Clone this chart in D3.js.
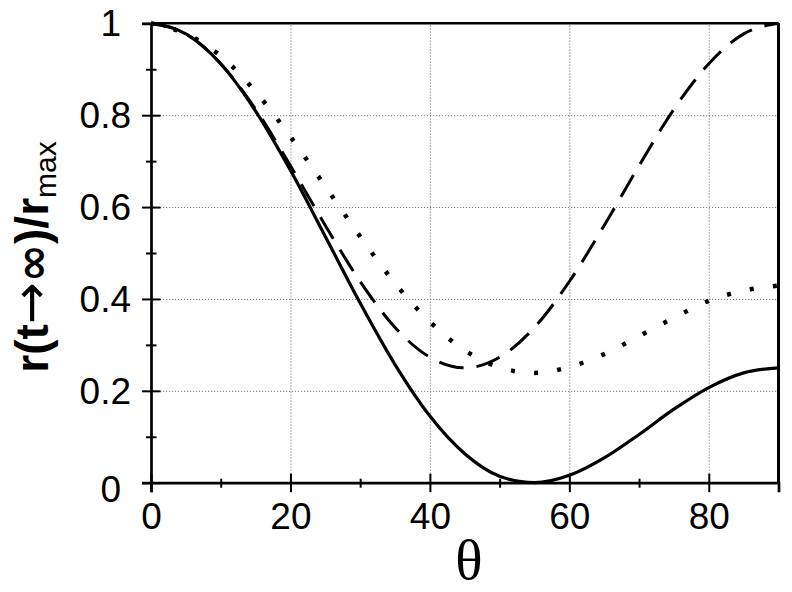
<!DOCTYPE html>
<html>
<head>
<meta charset="utf-8">
<script src="https://cdn.jsdelivr.net/npm/d3@7"></script>
<style>
  body { margin: 0; background: #fff; }
  svg { display: block; }
</style>
</head>
<body>
<div id="app"></div>
<script>
// angle in degrees
const theta      = [0, 5, 10, 15, 20, 25, 30, 35, 40, 45, 50, 55, 60, 65, 70, 75, 80, 85, 90];
const solidVals  = [1.000, 0.977, 0.912, 0.809, 0.680, 0.536, 0.391, 0.257, 0.145, 0.063, 0.014, 0.000, 0.016, 0.054, 0.105, 0.160, 0.207, 0.239, 0.250];
const dashedVals = [1.000, 0.977, 0.912, 0.813, 0.690, 0.560, 0.438, 0.338, 0.273, 0.250, 0.273, 0.338, 0.438, 0.560, 0.690, 0.813, 0.912, 0.977, 1.000];
const dottedVals = [1.000, 0.977, 0.929, 0.851, 0.753, 0.645, 0.536, 0.434, 0.350, 0.288, 0.251, 0.239, 0.252, 0.280, 0.319, 0.359, 0.396, 0.418, 0.429];

const xMajor = [0, 20, 40, 60, 80];
const xMinor = [10, 30, 50, 70, 90];
const yMajor = [0, 0.2, 0.4, 0.6, 0.8, 1];
const yMinor = [0.1, 0.3, 0.5, 0.7, 0.9];
const xGrid  = [20, 40, 60, 80];
const yGrid  = [0.2, 0.4, 0.6, 0.8];

const W = 792, H = 592;
const m = { t: 23.3, r: 13.5, b: 109.3, l: 151 };
const sansFont = "'Liberation Sans', Arial, sans-serif";

const svg = d3.select("#app")
                .append("svg")
                .attr("width", W)
                .attr("height", H);

const xScale = d3.scaleLinear().domain([0, 90]).range([m.l, W - m.r]);
const yScale = d3.scaleLinear().domain([0, 1]).range([H - m.b, m.t]);

// dotted grid
svg.append("g")
    .attr("transform", "translate(0," + yScale(0) + ")")
    .call(d3.axisBottom(xScale).tickValues(xGrid).tickSize(-(yScale(0) - yScale(1))).tickFormat(""))
    .call(g => g.select(".domain").remove())
    .selectAll("line")
        .attr("stroke", "#777")
        .attr("stroke-width", 1)
        .attr("stroke-dasharray", "1.2,1.8");

svg.append("g")
    .attr("transform", "translate(" + xScale(0) + ",0)")
    .call(d3.axisLeft(yScale).tickValues(yGrid).tickSize(-(xScale(90) - xScale(0))).tickFormat(""))
    .call(g => g.select(".domain").remove())
    .selectAll("line")
        .attr("stroke", "#777")
        .attr("stroke-width", 1)
        .attr("stroke-dasharray", "1.2,1.8");

// frame: top and right
svg.append("line")
    .attr("x1", xScale(0)).attr("x2", xScale(90))
    .attr("y1", yScale(1)).attr("y2", yScale(1))
    .attr("stroke", "#000").attr("stroke-width", 2.5);
svg.append("line")
    .attr("x1", xScale(90)).attr("x2", xScale(90))
    .attr("y1", yScale(1)).attr("y2", yScale(0))
    .attr("stroke", "#000").attr("stroke-width", 3);

// curves
const pts = (vals) => theta.map((t, i) => [t, vals[i]]);
const line = d3.line()
                .x(d => xScale(d[0]))
                .y(d => yScale(d[1]))
                .curve(d3.curveMonotoneX);

svg.append("path")
    .attr("d", line(pts(dashedVals)))
    .attr("fill", "none")
    .attr("stroke", "#000")
    .attr("stroke-width", 3)
    .attr("stroke-dasharray", "25,13");

svg.append("path")
    .attr("d", line(pts(dottedVals)))
    .attr("fill", "none")
    .attr("stroke", "#000")
    .attr("stroke-width", 4.5)
    .attr("stroke-dasharray", "4,19.3");

svg.append("path")
    .attr("d", line(pts(solidVals)))
    .attr("fill", "none")
    .attr("stroke", "#000")
    .attr("stroke-width", 3.2);

// axes - ticks cross the axis line
const yAxisG = svg.append("g")
    .attr("transform", "translate(" + xScale(0) + ",0)")
    .call(d3.axisLeft(yScale).tickValues(yMajor).tickSizeOuter(0).tickSize(9)
            .tickFormat(d => d === 0 || d === 1 ? d3.format("d")(d) : d3.format(".1f")(d)));
yAxisG.select(".domain").attr("stroke-width", 2.7);
yAxisG.selectAll(".tick line").attr("x1", 9.5).attr("stroke-width", 2);
yAxisG.selectAll(".tick text")
    .attr("x", d => (d === 0 || d === 1) ? -30 : -20)
    .attr("dy", d => d === 0 ? "0.52em" : "0.33em")
    .style("font-family", sansFont)
    .style("font-size", "37px")
    .attr("fill", "#000");

const yMinorG = svg.append("g")
    .attr("transform", "translate(" + xScale(0) + ",0)")
    .call(d3.axisLeft(yScale).tickValues(yMinor).tickSize(5).tickFormat(""));
yMinorG.select(".domain").remove();
yMinorG.selectAll(".tick line").attr("x1", 5.5).attr("stroke-width", 2);

const xAxisG = svg.append("g")
    .attr("transform", "translate(0," + yScale(0) + ")")
    .call(d3.axisBottom(xScale).tickValues(xMajor).tickSizeOuter(0).tickSize(9.5));
xAxisG.select(".domain").attr("stroke-width", 2.7);
xAxisG.selectAll(".tick line").attr("y1", -9).attr("stroke-width", 2);
xAxisG.selectAll(".tick text")
    .attr("y", 20)
    .attr("dy", "0.71em")
    .style("font-family", sansFont)
    .style("font-size", "37px")
    .attr("fill", "#000");

const xMinorG = svg.append("g")
    .attr("transform", "translate(0," + yScale(0) + ")")
    .call(d3.axisBottom(xScale).tickValues(xMinor).tickSize(5).tickFormat(""));
xMinorG.select(".domain").remove();
xMinorG.selectAll(".tick line").attr("y1", -4).attr("stroke-width", 2);

// axis titles
const yTitle = svg.append("text")
    .attr("transform", "translate(48,257) rotate(-90)")
    .attr("text-anchor", "middle")
    .style("font-family", sansFont)
    .style("font-weight", "bold")
    .style("font-size", "46px")
    .attr("fill", "#000");
yTitle.append("tspan").text("r(t");
yTitle.append("tspan")
    .style("font-family", "'DejaVu Sans', sans-serif")
    .style("font-weight", "normal")
    .style("font-size", "50px")
    .text("\u2192");
yTitle.append("tspan")
    .style("font-family", "'DejaVu Sans', sans-serif")
    .style("font-size", "46px")
    .text("\u221E");
yTitle.append("tspan").text(")/r");
yTitle.append("tspan")
    .attr("dy", 8)
    .style("font-weight", "normal")
    .style("font-size", "30px")
    .text("max");

svg.append("text")
    .attr("x", 469)
    .attr("y", 579)
    .attr("text-anchor", "middle")
    .style("font-family", "'Liberation Serif', 'Times New Roman', serif")
    .style("font-size", "57px")
    .attr("fill", "#000")
    .text("\u03B8");
</script>
</body>
</html>
